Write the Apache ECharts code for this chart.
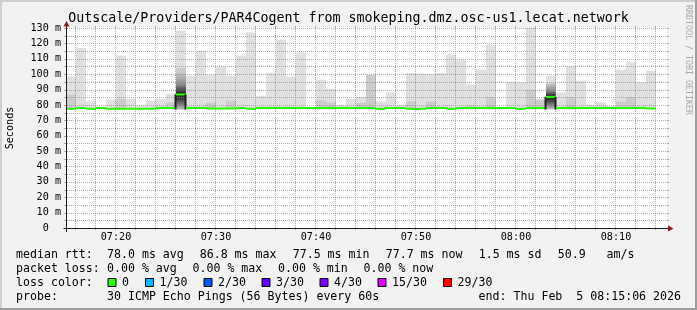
<!DOCTYPE html>
<html><head><meta charset="utf-8">
<script src="https://cdn.jsdelivr.net/npm/echarts@6/dist/echarts.min.js"></script>
<style>html,body{margin:0;padding:0;background:#f2f2f2;}#c{width:697px;height:310px;}</style>
</head><body><div id="c"></div>
<script>
// ---------- data (minutes after 07:00) ----------
const titleText = 'Outscale/Providers/PAR4Cogent from smokeping.dmz.osc-us1.lecat.network';
const startMinute = 15.1;   // 07:15:06
const endMinute = 75.1;     // 08:15:06
const barStartMinute = 15;  // first step 07:15-07:16
const smokeFloor = 77.2;    // ms, lowest ping seen
const smokeMax = [98.6,117,82.3,78.8,83.4,112,84,79.5,82.8,84,
  87.3,128.3,99,115.3,99.7,104.7,99,112,127.2,86,
  101,122.4,98.5,114.2,78.6,96.4,90.6,80,84,85.2,
  99.5,82.3,88.2,80.2,100.8,100.5,100,100.8,112.7,109.4,
  93.2,103,119.2,78.6,95.2,94.7,130,83.5,99,88,
  105,95.8,80.2,81.7,79.5,103,107.7,94.7,102.3];
const smokeMid = [86.7,null,null,null,null,84,null,null,null,79,
  81.7,104,null,null,81.3,null,82.8,null,null,null,
  null,null,null,null,null,83,81.7,null,null,81.3,
  99.5,null,null,null,82.3,null,82.3,null,null,null,
  79.5,null,85.2,null,null,null,90,83.5,null,null,
  85.2,null,null,null,null,82,85,null,null];
const denseTop = [null,null,null,null,null,null,null,null,null,null,
  null,101,null,null,null,null,null,null,null,null,
  null,null,null,null,null,null,null,null,null,null,
  null,null,null,null,null,null,null,null,null,null,
  null,null,null,null,null,null,null,null,94,null,
  null,null,null,null,null,null,null,null,null];
const denseBottom = [null,null,null,null,null,null,null,null,null,null,
  null,77.0,null,null,null,null,null,null,null,null,
  null,null,null,null,null,null,null,null,null,null,
  null,null,null,null,null,null,null,null,null,null,
  null,null,null,null,null,null,null,null,77.2,null,
  null,null,null,null,null,null,null,null,null];
const median = [77.5,78.0,77.5,78.0,77.5,77.5,77.5,77.5,77.5,78.0,
  78.0,86.8,78.0,78.0,77.7,77.7,77.7,78.0,77.5,78.0,
  78.0,78.0,78.0,78.0,78.0,78.0,78.0,78.0,78.0,78.0,
  78.0,77.5,78.0,78.0,77.5,77.5,78.0,78.0,77.5,78.0,
  78.0,78.0,78.0,78.0,78.0,77.5,78.0,78.0,85.2,78.0,
  78.0,78.0,78.0,78.0,78.0,78.0,78.0,78.0,77.7];
const yMajorGrid = [10,20,30,40,50,60,70,80,90,100,110,120,130];
const yMinorGrid = [5,15,25,35,45,55,65,75,85,95,105,115,125];
const xMajorGrid = [20,30,40,50,60,70];
const xMinorGrid = [16,18,22,24,26,28,32,34,36,38,42,44,46,48,52,54,56,58,62,64,66,68,72,74];
const xLabelMinutes = [20,30,40,50,60,70];
const xLabelTexts = ['07:20','07:30','07:40','07:50','08:00','08:10'];
const legendRtt = ['78.0 ms avg','86.8 ms max','77.5 ms min','77.7 ms now','1.5 ms sd','50.9   am/s'];
const legendLoss = ['0.00 % avg','0.00 % max','0.00 % min','0.00 % now'];
const lossLabels = ['0','1/30','2/30','3/30','4/30','15/30','29/30'];
const lossColors = ['#26ff00','#00b8ff','#0059ff','#5e00ff','#7e00ff','#dd00ff','#ff0000'];
const probeText = '30 ICMP Echo Pings (56 Bytes) every 60s';
const endText = 'end: Thu Feb  5 08:15:06 2026';

// ---------- styles ----------
const MONO = "'DejaVu Sans Mono', monospace";
const GRID_MINOR = 'rgba(143,143,143,0.75)';
const GRID_MAJOR = 'rgba(222,79,79,0.6)';

const chart = echarts.init(document.getElementById('c'), null, {renderer:'canvas', width:697, height:310});

function xPix(api, m){ return api.coord([m, 0])[0]; }
function yPix(api, v){ return api.coord([startMinute, v])[1]; }

const gridItems = [];
yMinorGrid.forEach(v => gridItems.push({dir:'h', v, c:GRID_MINOR}));
xMinorGrid.forEach(v => gridItems.push({dir:'v', v, c:GRID_MINOR}));
yMajorGrid.forEach(v => gridItems.push({dir:'h', v, c:GRID_MAJOR}));
xMajorGrid.forEach(v => gridItems.push({dir:'v', v, c:GRID_MAJOR}));

const lossRows = [
  {label:'median rtt:', items: legendRtt, xs:[107,199.7,292.7,385.7,478.7,557.7], y:255},
  {label:'packet loss:', items: legendLoss, xs:[107,192.5,278,363.5], y:268.5}
];
const boxXs = [107.5,145,203.5,261.5,319.5,377.5,443];

const graphic = [
  {type:'rect', shape:{x:0,y:0,width:697,height:2}, style:{fill:'#cfcfcf'}, silent:true},
  {type:'rect', shape:{x:0,y:0,width:2,height:310}, style:{fill:'#cfcfcf'}, silent:true},
  {type:'rect', shape:{x:0,y:308,width:697,height:2}, style:{fill:'#9e9e9e'}, silent:true},
  {type:'rect', shape:{x:695,y:0,width:2,height:310}, style:{fill:'#9e9e9e'}, silent:true},
  {type:'text', x:348.5, y:18.5, style:{text:titleText, fontFamily:MONO, fontSize:13.3, fill:'#000', align:'center', verticalAlign:'middle'}},
  {type:'text', x:10, y:128, rotation:Math.PI/2, style:{text:'Seconds', fontFamily:MONO, fontSize:10.15, fill:'#000', align:'center', verticalAlign:'middle'}},
  {type:'text', x:688, y:60, rotation:-Math.PI/2, style:{text:'RRDTOOL / TOBI OETIKER', fontFamily:MONO, fontSize:8.3, fill:'#a8a8a8', align:'center', verticalAlign:'middle'}}
];
lossRows.forEach(r => {
  graphic.push({type:'text', x:16, y:r.y, style:{text:r.label, fontFamily:MONO, fontSize:11.6, fill:'#000', align:'left', verticalAlign:'middle'}});
  r.items.forEach((t,k) => graphic.push({type:'text', x:r.xs[k], y:r.y, style:{text:t, fontFamily:MONO, fontSize:11.6, fill:'#000', align:'left', verticalAlign:'middle'}}));
});
graphic.push({type:'text', x:16, y:282.7, style:{text:'loss color:', fontFamily:MONO, fontSize:11.6, fill:'#000', align:'left', verticalAlign:'middle'}});
lossLabels.forEach((t,k) => {
  graphic.push({type:'rect', shape:{x:boxXs[k]+0.5, y:278.5, width:8, height:8}, style:{fill:lossColors[k], stroke:'#000', lineWidth:1}});
  graphic.push({type:'text', x:boxXs[k]+14.5, y:282.7, style:{text:t, fontFamily:MONO, fontSize:11.6, fill:'#000', align:'left', verticalAlign:'middle'}});
});
graphic.push({type:'text', x:16, y:296.5, style:{text:'probe:', fontFamily:MONO, fontSize:11.6, fill:'#000', align:'left', verticalAlign:'middle'}});
graphic.push({type:'text', x:107, y:296.5, style:{text:probeText, fontFamily:MONO, fontSize:11.6, fill:'#000', align:'left', verticalAlign:'middle'}});
graphic.push({type:'text', x:681, y:296.5, style:{text:endText, fontFamily:MONO, fontSize:11.6, fill:'#000', align:'right', verticalAlign:'middle'}});

const option = {
  animation:false,
  backgroundColor:'#f2f2f2',
  grid:{left:67, top:28, width:600, height:200, show:true, backgroundColor:'#ffffff', borderWidth:0},
  xAxis:{type:'value', min:startMinute, max:endMinute,
    axisLine:{show:false}, axisTick:{show:false}, splitLine:{show:false},
    axisLabel:{customValues:xLabelMinutes, formatter:v => { const k = xLabelMinutes.indexOf(v); return k>=0 ? xLabelTexts[k] : ''; },
      fontFamily:MONO, fontSize:10.15, color:'#000', margin:4}},
  yAxis:{type:'value', min:0, max:130, interval:10,
    axisLine:{show:false}, axisTick:{show:false}, splitLine:{show:false},
    axisLabel:{formatter:v => v===0 ? '0  ' : v + ' m', fontFamily:MONO, fontSize:10.15, color:'#000', margin:6, align:'right'}},
  graphic: graphic,
  series:[
    {type:'custom', z:2, silent:true, clip:false,
     data: smokeMax.map((v,i) => [barStartMinute + i + 0.5, v]),
     renderItem(params, api){
       const i = params.dataIndex;
       const cs = params.coordSys;
       const xa = Math.max(xPix(api, barStartMinute + i), cs.x);
       const xb = xPix(api, barStartMinute + i + 1);
       const w = xb - xa;
       const yF = yPix(api, smokeFloor);
       const ch = [];
       const yM = yPix(api, smokeMax[i]);
       ch.push({type:'rect', shape:{x:xa, y:yM, width:w, height:yF - yM}, style:{fill:'#e0e0e0'}});
       if (smokeMid[i] != null){
         const ym = yPix(api, smokeMid[i]);
         ch.push({type:'rect', shape:{x:xa, y:ym, width:w, height:yF - ym}, style:{fill:'#cccccc'}});
       }
       if (denseTop[i] != null){
         const yt = yPix(api, denseTop[i]), yb = yPix(api, denseBottom[i]), ymed = yPix(api, median[i]);
         const f = (ymed - yt) / (yb - yt);
         ch.push({type:'rect', shape:{x:xa, y:yt, width:w, height:yb - yt},
           style:{fill:new echarts.graphic.LinearGradient(0,0,0,1,[
             {offset:0, color:'#c8c8c8'}, {offset:f*0.55, color:'#8c8c8c'},
             {offset:f*0.85, color:'#3c3c3c'}, {offset:f, color:'#1e1e1e'},
             {offset:Math.min(1, f + 0.12), color:'#3a3a3a'}, {offset:1, color:'#c0c0c0'}])}});
       }
       return {type:'group', children:ch};
     }},
    {type:'custom', z:3, silent:true, clip:false,
     data: gridItems.map(g => g.dir==='h' ? [startMinute, g.v] : [g.v, 0]),
     renderItem(params, api){
       const g = gridItems[params.dataIndex];
       const cs = params.coordSys;
       const ch = [];
       if (g.dir==='h'){
         const y = Math.round(yPix(api, g.v)) + 0.5;
         const x0 = cs.x, x1 = cs.x + cs.width;
         ch.push({type:'line', shape:{x1:x0, y1:y, x2:x1, y2:y}, style:{stroke:g.c, lineWidth:1, lineDash:[1,1]}});
         ch.push({type:'line', shape:{x1:x0-3, y1:y, x2:x0, y2:y}, style:{stroke:g.c, lineWidth:1}});
         ch.push({type:'line', shape:{x1:x1, y1:y, x2:x1+2, y2:y}, style:{stroke:g.c, lineWidth:1}});
       } else {
         const x = Math.round(xPix(api, g.v)) - 0.5;
         const y0 = cs.y + cs.height, y1 = cs.y;
         ch.push({type:'line', shape:{x1:x, y1:y0, x2:x, y2:y1}, style:{stroke:g.c, lineWidth:1, lineDash:[1,1]}});
         ch.push({type:'line', shape:{x1:x, y1:y0, x2:x, y2:y0+2}, style:{stroke:g.c, lineWidth:1}});
         ch.push({type:'line', shape:{x1:x, y1:y1-2, x2:x, y2:y1}, style:{stroke:g.c, lineWidth:1}});
       }
       return {type:'group', children:ch};
     }},
    {type:'custom', z:4, silent:true, clip:false,
     data: median.map((v,i) => [barStartMinute + i + 0.5, v]),
     renderItem(params, api){
       const i = params.dataIndex;
       const cs = params.coordSys;
       const xa = Math.max(xPix(api, barStartMinute + i), cs.x);
       const xb = xPix(api, barStartMinute + i + 1);
       const y = yPix(api, median[i]);
       const ch = [];
       if (i > 0){
         const yp = yPix(api, median[i-1]);
         if (Math.abs(yp - y) > 3){
           ch.push({type:'line', shape:{x1:xa-0.5, y1:Math.min(yp,y), x2:xa-0.5, y2:Math.max(yp,y)+1.5}, style:{stroke:'#202020', lineWidth:2}});
         }
       }
       ch.push({type:'rect', shape:{x:xa, y:y-1, width:xb-xa, height:2}, style:{fill:'#26ff00'}});
       return {type:'group', children:ch};
     }},
    {type:'custom', z:5, silent:true, clip:false,
     data: [[startMinute, 0]],
     renderItem(params, api){
       const cs = params.coordSys;
       const x0 = cs.x - 0.5, y0 = cs.y + cs.height + 0.5;
       const x1 = cs.x + cs.width, yTop = cs.y;
       return {type:'group', children:[
         {type:'line', shape:{x1:x0-3, y1:y0, x2:x1+2, y2:y0}, style:{stroke:'#1f1f1f', lineWidth:1}},
         {type:'line', shape:{x1:x0, y1:y0+3.5, x2:x0, y2:yTop-3}, style:{stroke:'#1f1f1f', lineWidth:1}},
         {type:'polygon', shape:{points:[[x1+1, y0-3],[x1+1, y0+3],[x1+6.5, y0]]}, style:{fill:'#801f1f'}},
         {type:'polygon', shape:{points:[[x0-3, yTop-1.5],[x0+3, yTop-1.5],[x0, yTop-7]]}, style:{fill:'#801f1f'}}
       ]};
     }}
  ]
};
chart.setOption(option);
</script>
</body></html>
